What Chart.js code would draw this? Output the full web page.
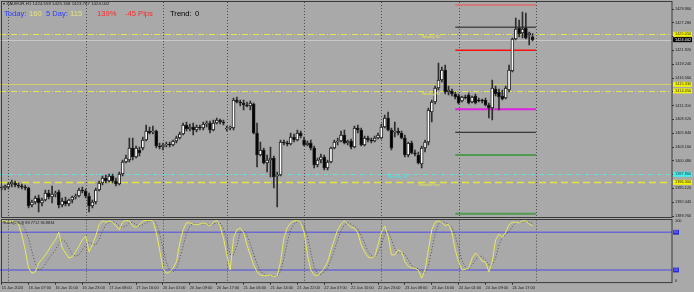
<!DOCTYPE html>
<html>
<head>
<meta charset="utf-8">
<script src="https://cdn.jsdelivr.net/npm/chart.js@4.4.1/dist/chart.umd.min.js"></script>
<style>
  html, body { margin: 0; padding: 0; background: #a9a9a9; }
  #wrap { position: relative; width: 694px; height: 292px; overflow: hidden; background: #a9a9a9; }
  canvas { position: absolute; left: 0; }
  #main { top: 0; }
  #sub { top: 218px; }
  #title { position: absolute; left: 3px; top: 1px; font: 4.4px "Liberation Sans", Arial, sans-serif; color: #1a1a1a; white-space: nowrap; }
  #info span { position: absolute; top: 8.5px; font: 7.6px "Liberation Sans", Arial, sans-serif; white-space: nowrap; }
</style>
</head>
<body>
<div id="wrap">
  <canvas id="main" width="694" height="218"></canvas>
  <canvas id="sub" width="694" height="74"></canvas>
  <div id="title">▾ XAUEUR,H1 1424.559 1425.168 1423.767 1424.002</div>
  <div id="info">
    <span style="left:4px;color:#2a3cff">Today:</span>
    <span style="left:29px;color:#e4e482">160</span>
    <span style="left:46px;color:#2a3cff">5 Day:</span>
    <span style="left:70px;color:#e4e482">115</span>
    <span style="left:97px;color:#ff2a2a">139%</span>
    <span style="left:125px;color:#ff2a2a">-45 Pips</span>
    <span style="left:170px;color:#000">Trend:</span>
    <span style="left:195px;color:#000">0</span>
  </div>
</div>
<script>
const FONT = '"Liberation Sans", Arial, sans-serif';
const SMALL = 3.9;
const SLOTS = 200;

// XAUEUR H1 bars, 15 Jan 22:00 .. 24 Jan 23:00
const opens = [1395.20,1395.20,1395.39,1395.98,1396.17,1395.78,1395.59,1395.39,1395.20,1391.90,
  1392.48,1393.26,1392.29,1392.87,1394.23,1393.45,1394.03,1394.42,1391.90,1392.67,
  1392.09,1392.87,1393.45,1393.65,1394.81,1394.62,1393.65,1391.70,1392.48,1394.81,
  1396.17,1397.14,1396.56,1397.53,1396.56,1395.98,1397.92,1400.25,1400.64,1402.97,
  1401.22,1402.58,1402.97,1404.52,1406.27,1406.07,1406.27,1403.36,1403.16,1403.55,
  1403.74,1403.55,1404.33,1404.91,1405.69,1407.43,1406.66,1407.05,1406.46,1407.05,
  1406.85,1407.63,1407.82,1406.46,1407.82,1408.41,1408.02,1406.66,1406.85,1406.85,
  1412.29,1411.90,1411.71,1411.32,1411.12,1411.51,1405.88,1401.61,1402.58,1400.05,
  1400.64,1401.03,1397.53,1397.72,1404.13,1403.94,1403.74,1405.10,1404.52,1405.88,
  1404.52,1403.55,1403.94,1402.97,1399.66,1400.64,1401.22,1399.08,1400.25,1402.97,
  1404.13,1404.33,1405.49,1403.94,1404.33,1403.16,1406.85,1406.46,1403.55,1404.91,
  1404.52,1404.33,1404.91,1404.91,1407.05,1408.79,1406.46,1406.07,1406.27,1405.88,
  1404.91,1401.61,1403.94,1402.00,1401.61,1399.86,1402.97,1404.13,1409.96,1411.90,
  1414.62,1416.17,1418.12,1413.84,1414.04,1413.45,1413.06,1412.10,1412.87,1413.26,
  1411.90,1413.06,1412.29,1412.29,1412.29,1411.32,1410.74,1414.43,1413.84,1413.06,
  1412.68,1414.23,1417.92,1424.14,1426.27,1425.30,1426.27,1424.91,1424.559];
const highs = [1395.59,1395.78,1396.17,1396.75,1396.56,1396.17,1395.98,1395.78,1395.39,1392.87,
  1393.65,1393.84,1393.26,1394.81,1394.81,1395.59,1394.62,1394.81,1393.26,1393.45,
  1393.06,1393.65,1394.03,1395.20,1395.39,1395.01,1394.23,1392.87,1395.20,1396.56,
  1397.53,1397.72,1397.92,1397.92,1397.14,1398.31,1400.64,1401.61,1404.91,1404.91,
  1403.36,1403.16,1405.10,1407.43,1407.05,1407.24,1406.46,1403.94,1403.94,1404.13,
  1404.13,1404.52,1405.30,1406.07,1407.82,1408.02,1407.63,1407.82,1407.43,1407.43,
  1408.02,1408.21,1408.21,1408.41,1408.79,1408.60,1408.41,1407.24,1407.24,1412.68,
  1412.87,1412.29,1412.29,1411.90,1412.10,1411.71,1407.82,1404.13,1402.97,1401.61,
  1403.16,1401.42,1398.31,1404.52,1404.52,1404.33,1405.88,1405.69,1406.46,1406.27,
  1405.10,1404.33,1404.52,1403.36,1401.03,1401.80,1401.61,1400.64,1403.16,1404.52,
  1404.91,1406.27,1406.46,1404.52,1404.71,1407.24,1407.43,1406.85,1405.30,1405.30,
  1404.91,1405.30,1405.88,1407.63,1409.38,1409.96,1406.85,1408.02,1406.85,1406.27,
  1405.49,1404.13,1404.33,1402.58,1402.19,1403.36,1404.52,1410.74,1412.29,1415.00,
  1419.47,1418.70,1419.08,1415.00,1414.43,1413.84,1413.45,1413.06,1413.26,1413.65,
  1413.06,1413.45,1412.68,1412.48,1412.68,1411.71,1416.17,1415.00,1414.43,1414.23,
  1415.00,1419.08,1424.33,1428.21,1427.82,1429.38,1429.18,1425.49,1425.168];
const lows = [1394.81,1394.81,1395.01,1395.39,1395.39,1395.20,1395.01,1394.81,1391.31,1391.51,
  1392.09,1390.54,1391.70,1392.67,1393.06,1392.29,1393.45,1391.31,1391.51,1391.70,
  1391.70,1392.29,1393.06,1393.45,1394.23,1393.26,1390.54,1391.31,1392.09,1394.62,
  1395.78,1396.17,1396.36,1396.17,1395.59,1395.78,1397.53,1400.05,1400.25,1400.64,
  1401.03,1401.42,1402.58,1404.33,1405.69,1405.69,1402.97,1402.77,1402.58,1403.16,
  1403.16,1403.36,1403.94,1404.71,1405.49,1406.27,1406.27,1405.49,1406.07,1406.46,
  1406.46,1407.05,1405.88,1406.27,1407.63,1407.63,1407.43,1406.27,1406.46,1406.46,
  1411.71,1411.12,1410.35,1410.93,1410.35,1405.69,1399.28,1401.42,1399.86,1398.31,
  1397.34,1395.20,1391.51,1397.53,1403.55,1403.36,1403.55,1404.13,1404.33,1404.91,
  1403.36,1403.36,1402.58,1399.08,1399.28,1400.05,1398.69,1398.69,1400.05,1402.77,
  1403.55,1404.13,1403.74,1403.55,1402.77,1402.97,1405.88,1403.36,1403.36,1404.13,
  1403.94,1404.13,1404.71,1404.71,1406.85,1406.27,1402.58,1405.10,1405.49,1404.71,
  1401.22,1401.22,1401.80,1401.42,1399.86,1399.08,1402.19,1403.55,1408.02,1411.51,
  1414.23,1415.78,1413.45,1413.26,1413.06,1412.48,1411.51,1411.90,1412.48,1411.51,
  1411.71,1411.51,1411.90,1411.71,1411.12,1408.79,1408.41,1413.06,1410.35,1412.29,
  1412.48,1413.84,1417.73,1423.94,1424.52,1424.33,1424.14,1422.97,1423.767];
const closes = [1395.39,1395.59,1395.98,1396.36,1395.78,1395.59,1395.39,1395.20,1391.70,1392.48,
  1393.26,1392.29,1392.87,1394.23,1393.45,1394.03,1394.23,1391.90,1392.67,1392.09,
  1392.87,1393.45,1393.65,1394.81,1394.62,1393.65,1391.70,1392.48,1394.81,1396.17,
  1397.14,1396.56,1397.53,1396.56,1395.98,1397.92,1400.25,1401.03,1402.97,1401.22,
  1402.97,1402.00,1404.52,1406.27,1405.88,1406.27,1403.36,1403.16,1403.55,1403.74,
  1403.55,1404.33,1404.91,1405.69,1407.43,1406.66,1407.05,1406.46,1407.05,1406.85,
  1407.63,1407.82,1406.46,1407.82,1408.41,1408.02,1407.82,1406.85,1407.05,1412.29,
  1411.90,1411.71,1411.32,1411.12,1411.71,1405.88,1401.61,1402.58,1400.05,1400.64,
  1401.03,1397.34,1397.72,1404.13,1403.94,1403.74,1405.10,1404.52,1405.88,1405.30,
  1403.55,1403.94,1402.97,1399.66,1400.64,1401.22,1399.08,1400.25,1402.97,1404.13,
  1404.33,1405.49,1403.94,1404.33,1403.16,1406.85,1406.46,1403.55,1404.91,1404.52,
  1404.33,1404.91,1405.49,1407.05,1408.79,1406.46,1402.97,1406.27,1405.88,1404.91,
  1401.61,1403.94,1402.00,1401.80,1400.05,1402.97,1404.13,1410.35,1411.90,1414.62,
  1416.17,1418.12,1413.84,1414.23,1413.45,1412.87,1411.71,1412.87,1412.68,1411.71,
  1412.87,1411.71,1412.10,1412.10,1411.32,1410.74,1414.62,1413.45,1412.87,1412.48,
  1414.62,1418.12,1424.14,1426.08,1425.10,1426.08,1424.33,1425.30,1424.002];

// Stochastic (5,3,3): main and signal
const stochK = [98,98,96,98,96,93,76,52,23,15, 17,31,37,44,52,61,68,80,55,47,
  39,41,49,58,68,74,49,60,74,92, 98,96,98,96,90,84,96,99,98,90,
  88,92,98,99,99,98,80,52,23,15, 17,23,33,63,84,95,95,93,92,93,
  95,93,90,96,99,90,71,44,20,71, 84,87,80,60,44,28,17,12,11,11,
  12,9,11,33,71,87,95,98,99,96, 80,44,20,12,11,17,23,33,52,68,
  84,93,98,93,88,87,79,60,49,41, 39,41,60,80,90,74,44,44,52,49,
  33,26,23,23,20,7,20,52,84,96, 98,96,90,93,80,52,33,20,21,23,
  39,47,42,34,33,17,33,68,77,72, 80,92,96,96,95,98,98,93,90];
const stochD = [96,97,97,97,97,96,93,85,70,50, 30,20,22,30,38,45,52,62,68,65,
  55,45,42,44,52,60,64,62,60,68, 82,92,96,97,95,90,88,90,95,96,
  92,90,92,95,98,98,95,78,55,32, 20,17,22,38,58,78,90,94,93,93,
  93,93,92,93,95,95,86,68,45,44, 58,80,84,76,62,45,30,19,13,11,
  11,10,10,18,38,64,84,93,97,97, 92,74,48,25,14,13,17,24,36,51,
  68,82,92,95,93,89,85,75,63,50, 43,40,47,60,77,81,69,54,47,48,
  45,36,27,24,22,17,16,26,52,77, 93,97,95,93,88,75,55,35,25,21,
  28,36,43,41,36,28,28,39,59,72, 76,81,89,95,96,96,97,96,94];
const stochLevels = [80, 20];

const timeTicks = ['15 Jan 2020','16 Jan 07:00','16 Jan 15:00','16 Jan 23:00','17 Jan 08:00',
  '17 Jan 16:00','20 Jan 01:00','20 Jan 09:00','20 Jan 17:00','21 Jan 06:00',
  '21 Jan 14:00','21 Jan 22:00','22 Jan 07:00','22 Jan 15:00','22 Jan 23:00',
  '23 Jan 08:00','23 Jan 16:00','24 Jan 01:00','24 Jan 09:00','24 Jan 17:00'];
const priceTicks = [1429.96,1427.28,1424.60,1421.92,1419.24,1416.56,1413.88,1411.20,
  1408.52,1405.84,1403.16,1400.48,1397.80,1395.12,1392.44,1389.76];

// bar index where each trading day starts
const daySeparators = [2, 25, 48, 67, 90, 113, 136, 159];

// weekly / reference levels across the whole chart
const levelValues = [1425.05, 1424.002, 1415.33, 1414.05, 1397.86, 1396.30];
const levelNames = ['Weekly R2', '', '', 'Weekly R1', 'Monthly R1', 'WeeklyPivot'];

// today's daily levels, drawn from the last session start
const dailyLevels = [1430.74, 1426.41, 1421.94, 1410.48, 1406.02, 1401.61, 1390.21];
const dailyFrom = 135, dailyTo = 159;

const slots = Array.from({ length: SLOTS }, (_, i) => i);

const levelStyle = [
  { color: '#e6e650', dash: [6, 2, 1, 2], width: 1, tag: '#f2f200', text: '#333' },
  { color: '#c9c9c9', dash: [], width: 1, tag: '#000000', text: '#ffffff' },
  { color: '#d6cc6a', dash: [], width: 1, tag: '#f2f200', text: '#333' },
  { color: '#e6e650', dash: [6, 2, 1, 2], width: 1, tag: '#f2f200', text: '#333' },
  { color: '#5fe3e3', dash: [4, 2, 1, 2], width: 1, tag: '#3ef0f0', text: '#333' },
  { color: '#e6e63c', dash: [7, 4], width: 1.6, tag: '#f2f200', text: '#333' }
];
const levelLabelSlot = [125, null, null, 125, 115, 124];
const levelLabelColor = ['#e6e650', null, null, '#e6e650', '#3ee8e8', '#e6e650'];
const dailyColors = ['#e06a6a', '#4a4a4a', '#ff1010', '#e020e0', '#1a1a1a', '#4f9a4f', '#4f9a4f'];
const dailyWidths = [1.5, 1.5, 1.5, 2, 1, 2, 2];

function hline(ctx, x1, x2, y) {
  ctx.beginPath(); ctx.moveTo(x1, y); ctx.lineTo(x2, y); ctx.stroke();
}
function vline(ctx, x, y1, y2) {
  ctx.beginPath(); ctx.moveTo(x, y1); ctx.lineTo(x, y2); ctx.stroke();
}
function drawSeparators(chart) {
  const { ctx, chartArea: a, scales: { x } } = chart;
  ctx.save();
  ctx.strokeStyle = '#4c4c4c';
  ctx.lineWidth = 1;
  ctx.setLineDash([1, 2]);
  daySeparators.forEach(i => vline(ctx, Math.round(x.getPixelForValue(i)) + 0.5, a.top, a.bottom));
  ctx.restore();
}

const mainDecor = {
  id: 'mainDecor',
  beforeDatasetsDraw(chart) {
    const { ctx, chartArea: a, scales: { y } } = chart;
    drawSeparators(chart);
    ctx.save();
    levelValues.forEach((v, k) => {
      const st = levelStyle[k];
      ctx.strokeStyle = st.color;
      ctx.lineWidth = st.width;
      ctx.setLineDash(st.dash);
      hline(ctx, a.left, a.right, Math.round(y.getPixelForValue(v)) + 0.5);
    });
    ctx.restore();
  },
  afterDraw(chart) {
    const { ctx, chartArea: a, scales: { x, y } } = chart;
    ctx.save();
    ctx.font = SMALL + 'px ' + FONT;
    ctx.textBaseline = 'top';
    levelValues.forEach((v, k) => {
      if (!levelNames[k]) return;
      ctx.fillStyle = levelLabelColor[k];
      ctx.fillText(levelNames[k], x.getPixelForValue(levelLabelSlot[k]), y.getPixelForValue(v) + 1);
    });
    ctx.textBaseline = 'middle';
    levelValues.forEach((v, k) => {
      const py = y.getPixelForValue(v);
      ctx.fillStyle = levelStyle[k].tag;
      ctx.fillRect(a.right + 1, py - 2.5, 19, 5);
      ctx.fillStyle = levelStyle[k].text;
      ctx.fillText(v.toFixed(3), a.right + 3, py);
    });
    ctx.strokeStyle = '#3a3a3a';
    ctx.lineWidth = 1;
    ctx.strokeRect(1.5, 1.5, a.right - 1.5, a.bottom - 1.5);
    ctx.restore();
  }
};

new Chart(document.getElementById('main'), {
  type: 'bar',
  data: {
    labels: slots,
    datasets: [
      {
        type: 'bar',
        data: opens.map((o, i) => [o, closes[i]]),
        backgroundColor: opens.map((o, i) => closes[i] >= o ? '#ffffff' : '#000000'),
        borderColor: '#1e1e1e',
        borderWidth: 1,
        borderSkipped: false,
        barThickness: 3,
        minBarLength: 1,
        grouped: false,
        order: 0
      },
      {
        type: 'bar',
        data: lows.map((l, i) => [l, highs[i]]),
        backgroundColor: '#2e2e2e',
        barThickness: 1,
        grouped: false,
        order: 1
      },
      ...dailyLevels.map((v, k) => ({
        type: 'line',
        data: slots.map(i => (i === dailyFrom || i === dailyTo) ? v : null),
        spanGaps: true,
        borderColor: dailyColors[k],
        borderWidth: dailyWidths[k],
        pointRadius: 0,
        order: 2
      }))
    ]
  },
  options: {
    responsive: false,
    animation: false,
    events: [],
    layout: { padding: { top: 2, bottom: 0.5, left: 0, right: 0 } },
    plugins: { legend: { display: false }, tooltip: { enabled: false } },
    scales: {
      x: { type: 'category', offset: true, display: false },
      y: {
        position: 'right',
        min: 1389.47,
        max: 1431.32,
        afterBuildTicks: s => { s.ticks = priceTicks.map(v => ({ value: v })); },
        afterFit: s => { s.width = 22; s.paddingTop = 0; s.paddingBottom = 0; },
        ticks: { callback: v => v.toFixed(3), font: { size: SMALL, family: FONT }, color: '#1a1a1a', padding: 1, autoSkip: false },
        grid: { drawOnChartArea: false, drawTicks: true, tickLength: 2, color: '#333' },
        border: { display: false }
      }
    }
  },
  plugins: [mainDecor]
});

const subDecor = {
  id: 'subDecor',
  beforeDatasetsDraw(chart) {
    const { ctx, chartArea: a, scales: { y } } = chart;
    drawSeparators(chart);
    ctx.save();
    ctx.strokeStyle = '#6a6ad0';
    ctx.lineWidth = 1.6;
    stochLevels.forEach(v => hline(ctx, a.left, a.right, y.getPixelForValue(v)));
    ctx.restore();
  },
  afterDraw(chart) {
    const { ctx, chartArea: a, scales: { y } } = chart;
    ctx.save();
    ctx.strokeStyle = '#3a3a3a';
    ctx.lineWidth = 1;
    ctx.strokeRect(1.5, a.top - 0.2, a.right - 1.5, a.bottom - a.top + 0.2);
    ctx.font = SMALL + 'px ' + FONT;
    ctx.textBaseline = 'middle';
    ctx.fillStyle = '#1a1a1a';
    ctx.fillText('Stoch(5,3,3) 89.7712 94.8834', 3, a.top + 3);
    ctx.fillText('100', a.right + 3, a.top + 1.5);
    ctx.fillText('0', a.right + 3, a.bottom - 2);
    stochLevels.forEach(v => {
      const py = y.getPixelForValue(v);
      ctx.fillStyle = '#2a2ad8';
      ctx.fillRect(a.right + 1, py - 2.4, 6, 4.8);
      ctx.fillStyle = '#9aa0ff';
      ctx.fillText(String(v), a.right + 1.5, py);
    });
    ctx.restore();
  }
};

new Chart(document.getElementById('sub'), {
  type: 'line',
  data: {
    labels: slots,
    datasets: [
      { data: stochK, borderColor: '#e8e85a', borderWidth: 1, pointRadius: 0, tension: 0 },
      { data: stochD, borderColor: '#505050', borderWidth: 1, borderDash: [1, 2], pointRadius: 0, tension: 0 }
    ]
  },
  options: {
    responsive: false,
    animation: false,
    events: [],
    layout: { padding: { top: 1.7, bottom: 0, left: 0, right: 0 } },
    plugins: { legend: { display: false }, tooltip: { enabled: false } },
    scales: {
      x: {
        type: 'category',
        offset: true,
        afterFit: s => { s.height = 9.4; s.paddingLeft = 0; s.paddingRight = 0; },
        ticks: {
          autoSkip: false, maxRotation: 0, minRotation: 0, align: 'start', padding: 0.5,
          font: { size: SMALL, family: FONT }, color: '#1a1a1a',
          callback: (v, i) => (i % 8 === 0 ? timeTicks[i / 8] : null)
        },
        grid: { drawOnChartArea: false, drawTicks: true, tickLength: 2, offset: false, color: '#2a2a2a' },
        border: { display: false }
      },
      y: {
        position: 'right',
        min: 0,
        max: 100,
        afterFit: s => { s.width = 22; s.paddingTop = 0; s.paddingBottom = 0; },
        ticks: { display: false },
        grid: { display: false },
        border: { display: false }
      }
    }
  },
  plugins: [subDecor]
});
</script>
</body>
</html>
